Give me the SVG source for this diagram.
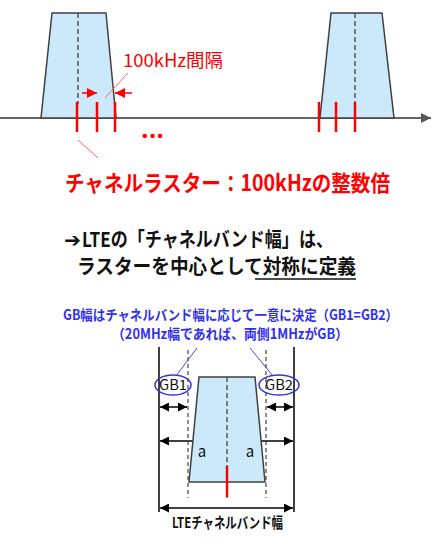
<svg xmlns="http://www.w3.org/2000/svg" width="437" height="542" viewBox="0 0 437 542">
<defs>
<marker id="ah" viewBox="0 0 10 10" refX="10" refY="5" markerWidth="9" markerHeight="9" markerUnits="userSpaceOnUse" orient="auto-start-reverse"><path d="M0,0 L10,5 L0,10 z" fill="#000"/></marker>
<marker id="ahg" viewBox="0 0 10 10" refX="10" refY="5" markerWidth="10" markerHeight="12" markerUnits="userSpaceOnUse" orient="auto-start-reverse"><path d="M0,0 L10,5 L0,10 z" fill="#555"/></marker>
<marker id="ahr" viewBox="0 0 10 10" refX="10" refY="5" markerWidth="10" markerHeight="11" markerUnits="userSpaceOnUse" orient="auto-start-reverse"><path d="M0,0 L10,5 L0,10 z" fill="#f00"/></marker>
<style>
.trap{fill:#cce8fb;stroke:#404040;stroke-width:1.5}
.dash{stroke:#333;stroke-width:1.2;stroke-dasharray:5 3;fill:none}
.dash2{stroke:#444;stroke-width:1.2;stroke-dasharray:4 3;fill:none}
.tick{stroke:#f00;stroke-width:2.5}
.red{fill:#f00;font-family:"Noto Sans CJK JP","Noto Sans",sans-serif}
.blk{fill:#111;font-family:"Noto Sans CJK JP","Noto Sans",sans-serif}
.sym{fill:#111;font-family:"DejaVu Sans",sans-serif}
.blue{fill:#3030f0;font-family:"Noto Sans CJK JP","Noto Sans",sans-serif;font-weight:bold}
.arr{stroke:#000;stroke-width:1.5;marker-start:url(#ah);marker-end:url(#ah)}
.solid{stroke:#000;stroke-width:1.5}
.ell{fill:none;stroke:#3333dd;stroke-width:1.5}
</style>
</defs>
<g id="axis">
<line x1="0" y1="118" x2="431" y2="118" stroke="#666" stroke-width="2" marker-end="url(#ahg)"/>
</g>
<g id="carrier1">
<polygon class="trap" points="52,13 106,13 116,118 41,118"/>
<line class="dash" x1="78" y1="13" x2="78" y2="104"/>
</g>
<g id="carrier2">
<polygon class="trap" points="331,13 382,13 394,118 320,118"/>
<line class="dash" x1="355" y1="13" x2="355" y2="104"/>
</g>
<g id="ticks">
<line class="tick" x1="77" y1="102" x2="77" y2="132"/>
<line class="tick" x1="97" y1="102" x2="97" y2="132"/>
<line class="tick" x1="115" y1="102" x2="115" y2="132"/>
<line class="tick" x1="319" y1="102" x2="319" y2="132"/>
<line class="tick" x1="336" y1="102" x2="336" y2="132"/>
<line class="tick" x1="355" y1="102" x2="355" y2="132"/>
</g>
<g id="connectors">
<line x1="82" y1="93" x2="97" y2="93" stroke="#f00" stroke-width="1.5" marker-end="url(#ahr)"/>
<line x1="132" y1="93" x2="115" y2="93" stroke="#f00" stroke-width="1.5" marker-end="url(#ahr)"/>
<line x1="128" y1="73" x2="105" y2="98" stroke="#f66" stroke-width="1"/>
<line x1="78" y1="140" x2="98" y2="158" stroke="#f66" stroke-width="1"/>
<line x1="197" y1="348" x2="176" y2="376" stroke="#4444ee" stroke-width="1"/>
<line x1="250" y1="348" x2="273" y2="376" stroke="#4444ee" stroke-width="1"/>
<line class="arr" x1="160" y1="407" x2="187" y2="407"/>
<line class="arr" x1="267" y1="407" x2="293" y2="407"/>
<line class="arr" x1="160" y1="441" x2="224" y2="441"/>
<line class="arr" x1="230" y1="441" x2="293" y2="441"/>
<line class="arr" x1="160" y1="508" x2="293" y2="508"/>
</g>
<g id="labels-top">
<text class="red" x="123" y="67" font-size="18" textLength="100" lengthAdjust="spacingAndGlyphs">100kHz間隔</text>
<text class="red" x="141" y="138" font-size="22" font-weight="bold" textLength="23" lengthAdjust="spacingAndGlyphs">...</text>
<text class="red" x="65" y="191" font-size="22" font-weight="bold" textLength="325" lengthAdjust="spacingAndGlyphs">チャネルラスター：100kHzの整数倍</text>
<text class="sym" x="64" y="247" font-size="20" font-weight="bold" textLength="17" lengthAdjust="spacingAndGlyphs">➔</text>
<text class="blk" x="82" y="247" font-size="20" font-weight="bold" textLength="251" lengthAdjust="spacingAndGlyphs">LTEの「チャネルバンド幅」は、</text>
<text class="blk" x="77" y="274" font-size="20" font-weight="bold" textLength="279" lengthAdjust="spacingAndGlyphs">ラスターを中心として対称に定義</text>
<line x1="255" y1="279" x2="356" y2="279" stroke="#111" stroke-width="1.5"/>
</g>
<g id="labels-gb">
<text class="blue" x="63" y="320" font-size="14" textLength="335" lengthAdjust="spacingAndGlyphs">GB幅はチャネルバンド幅に応じて一意に決定（GB1=GB2）</text>
<text class="blue" x="112" y="339" font-size="14" textLength="236" lengthAdjust="spacingAndGlyphs">（20MHz幅であれば、両側1MHzがGB）</text>
</g>
<g id="lte-band">
<line class="solid" x1="159" y1="347" x2="159" y2="512"/>
<line class="solid" x1="294" y1="347" x2="294" y2="512"/>
<line class="dash2" x1="188" y1="350" x2="188" y2="498"/>
<line class="dash2" x1="266" y1="350" x2="266" y2="498"/>
<polygon class="trap" points="199,377 255,377 265,482 189,482"/>
<line class="dash" x1="227" y1="377" x2="227" y2="498"/>
<line class="tick" x1="227" y1="466" x2="227" y2="497"/>
</g>
<g id="gb1">
<ellipse class="ell" cx="173" cy="385" rx="18" ry="10"/>
<text class="blk" x="173" y="390" font-size="14" text-anchor="middle" textLength="28" lengthAdjust="spacingAndGlyphs">GB1</text>
</g>
<g id="gb2">
<ellipse class="ell" cx="279" cy="385" rx="20" ry="10"/>
<text class="blk" x="279" y="390" font-size="14" text-anchor="middle" textLength="28" lengthAdjust="spacingAndGlyphs">GB2</text>
</g>
<g id="labels-bottom">
<text class="blk" x="202" y="457" font-size="15" text-anchor="middle">a</text>
<text class="blk" x="250" y="457" font-size="15" text-anchor="middle">a</text>
<text class="blk" x="172" y="528" font-size="15" font-weight="bold" textLength="111" lengthAdjust="spacingAndGlyphs">LTEチャネルバンド幅</text>
</g>
</svg>
